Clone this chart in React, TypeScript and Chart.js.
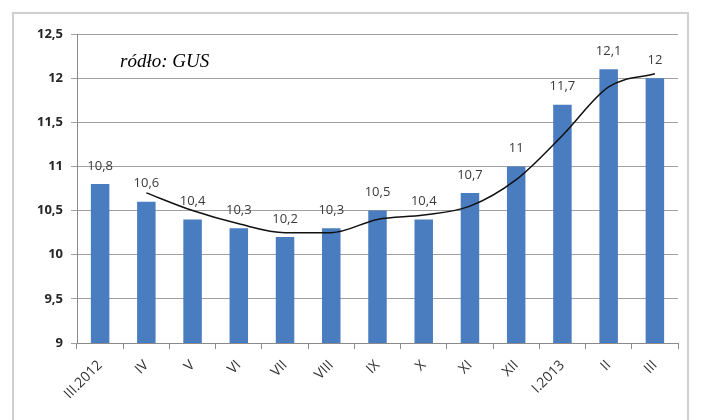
import React, { useEffect, useRef } from "react";
import { Chart, registerables } from "chart.js";

Chart.register(...registerables);

const categories = ["III.2012", "IV", "V", "VI", "VII", "VIII", "IX", "X", "XI", "XII", "I.2013", "II", "III"];
const unemployment = [10.8, 10.6, 10.4, 10.3, 10.2, 10.3, 10.5, 10.4, 10.7, 11.0, 11.7, 12.1, 12.0];
const trend = [null, 10.7, 10.5, 10.35, 10.25, 10.25, 10.4, 10.45, 10.55, 10.85, 11.35, 11.9, 12.05];
const sourceText = "ródło: GUS";

const fmt = (v: number) => String(v).replace(".", ",");

const framePlugin = {
  id: "frame",
  beforeDraw(chart: any) {
    const ctx = chart.ctx;
    ctx.save();
    ctx.fillStyle = "#ffffff";
    ctx.fillRect(0, 0, chart.width, chart.height);
    ctx.strokeStyle = "#cfcfcf";
    ctx.lineWidth = 2;
    ctx.strokeRect(13, 13, 675, 408);
    ctx.restore();
  },
};

const labelsPlugin = {
  id: "barLabels",
  afterDatasetsDraw(chart: any) {
    const ctx = chart.ctx;
    const meta = chart.getDatasetMeta(1);
    ctx.save();
    ctx.font = "13px 'Open Sans', sans-serif";
    ctx.fillStyle = "#3a3a3a";
    ctx.textAlign = "center";
    ctx.textBaseline = "middle";
    meta.data.forEach((el: any, i: number) => {
      ctx.fillText(fmt(unemployment[i]), el.x, el.y - 18);
    });
    ctx.font = "italic 19px 'Liberation Serif', serif";
    ctx.fillStyle = "#000000";
    ctx.textAlign = "left";
    ctx.textBaseline = "alphabetic";
    ctx.fillText(sourceText, 120, 67);
    ctx.restore();
  },
};

export default function App() {
  const ref = useRef<HTMLCanvasElement>(null);
  useEffect(() => {
    if (!ref.current) return;
    const chart = new Chart(ref.current, {
      type: "bar",
      data: {
        labels: categories,
        datasets: [
          {
            type: "line",
            data: trend as any,
            borderColor: "#111111",
            borderWidth: 1.5,
            pointRadius: 0,
            cubicInterpolationMode: "monotone",
            fill: false,
            order: 0,
          } as any,
          {
            type: "bar",
            data: unemployment,
            backgroundColor: "#4a7cc0",
            categoryPercentage: 1,
            barPercentage: 0.4,
            order: 1,
          },
        ],
      },
      options: {
        animation: false,
        responsive: false,
        devicePixelRatio: 1,
        layout: { padding: { top: 34, left: 16, right: 24, bottom: 0 } },
        plugins: { legend: { display: false }, tooltip: { enabled: false } },
        scales: {
          x: {
            grid: { offset: true, drawOnChartArea: false, drawTicks: true, tickLength: 6, color: "#8a8a8a" },
            border: { color: "#8a8a8a" },
            ticks: {
              minRotation: 45,
              maxRotation: 45,
              color: "#333333",
              font: { size: 14, family: "'Open Sans', sans-serif" },
              padding: 8,
            },
            afterFit(scale: any) {
              scale.height = 77;
            },
          },
          y: {
            min: 9,
            max: 12.5,
            grid: { color: "#a0a0a0", tickLength: 6 },
            border: { color: "#8a8a8a" },
            ticks: {
              stepSize: 0.5,
              color: "#262626",
              padding: 8,
              font: { size: 13, weight: "bold", family: "'Open Sans', sans-serif" },
              callback: (v: any) => fmt(Number(v)),
            },
            afterFit(scale: any) {
              scale.width = 61;
            },
          },
        },
      },
      plugins: [framePlugin, labelsPlugin],
    });
    return () => chart.destroy();
  }, []);
  return (
    <div style={{ position: "absolute", left: 0, top: 0, width: 702, height: 420 }}>
      <canvas ref={ref} width={702} height={420} style={{ width: 702, height: 420 }} />
    </div>
  );
}
